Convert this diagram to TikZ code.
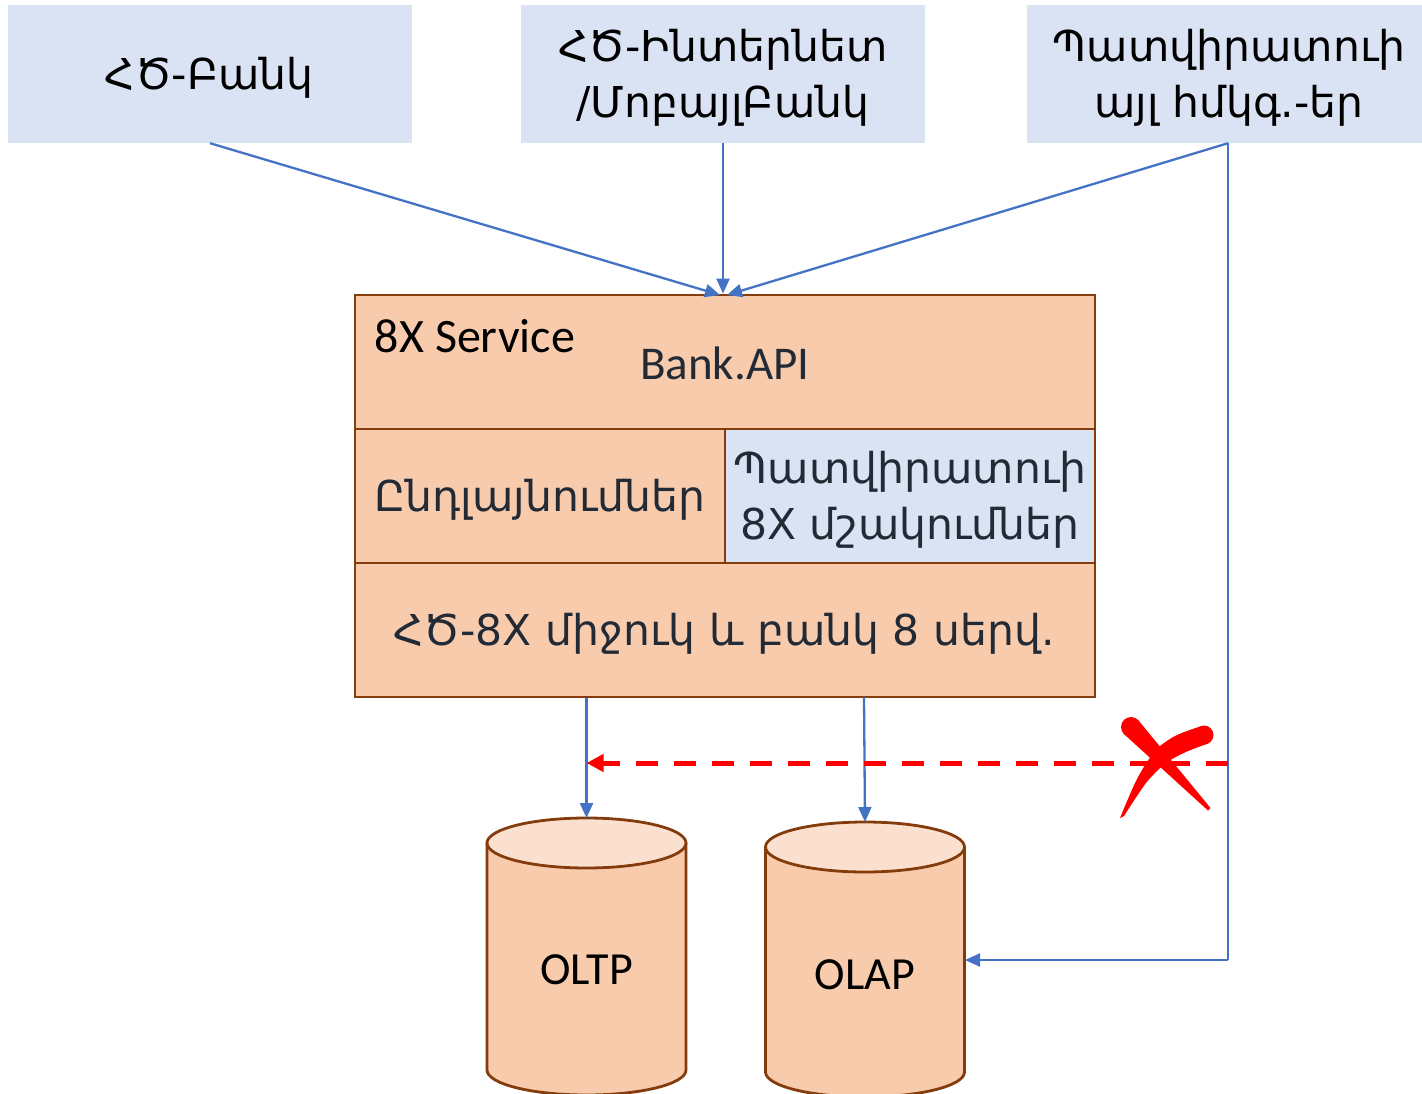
\documentclass[tikz,border=0pt]{standalone}
\usepackage{fontspec}
\setmainfont{Carlito}
\newfontfamily\armfont{DejaVu Sans}
\usetikzlibrary{arrows.meta}
\definecolor{boxblue}{HTML}{DAE3F3}
\definecolor{peach}{HTML}{F8CBAD}
\definecolor{peachlt}{HTML}{FBE0D0}
\definecolor{brownline}{HTML}{843C0C}
\definecolor{linkblue}{HTML}{4472C4}
\definecolor{darktext}{HTML}{222A35}
\definecolor{xred}{HTML}{FF0000}
\newcommand\drawdb[3]{%
  \path[dbside] (#1-99.5,#2) -- (#1-99.5,#3) .. controls (#1-99.5,#3+13.8) and (#1-55,#3+25) .. (#1,#3+25) .. controls (#1+55,#3+25) and (#1+99.5,#3+13.8) .. (#1+99.5,#3) -- (#1+99.5,#2);
  \path[dbtop] (#1,#2) ellipse [x radius=99.5, y radius=25];
}
\begin{document}
\begin{tikzpicture}[x=1pt,y=-1pt,
  srcbox/.style={fill=boxblue, draw=none, minimum width=404pt, minimum height=138pt, inner sep=0pt},
  cell/.style={fill=peach, draw=brownline, line width=2.8pt, inner sep=0pt},
  armtext/.style={inner sep=0pt, align=center, font=\armfont\fontsize{42.5}{56.5}\selectfont},
  celltext/.style={armtext, text=darktext},
  link/.style={draw=linkblue, line width=2.3pt, -{Triangle[length=15pt,width=13pt]}},
  noarrow/.style={draw=linkblue, line width=2.3pt},
  xdash/.style={draw=xred, line width=5pt, dash pattern=on 22pt off 16pt, -{Triangle[length=17pt,width=17pt]}},
  dbside/.style={fill=peach, draw=brownline, line width=2.8pt},
  dbtop/.style={fill=peachlt, draw=brownline, line width=2.8pt},
  lbl/.style={inner sep=0pt, font=\fontsize{46}{50}\selectfont}
]
\useasboundingbox (0,0) rectangle (1422,1094);
\clip (0,0) rectangle (1422,1094);
% source boxes
\node[srcbox] (b1) at (210,74) {};
\node[srcbox] (b2) at (723,74) {};
\node[srcbox, minimum width=402pt] (b3) at (1228,74) {};
\node[armtext] (t1) at (209,78) {ՀԾ-Բանկ};
\node[armtext] (t2) at (723,78) {ՀԾ-Ինտերնետ\\/ՄոբայլԲանկ};
\node[armtext] (t3) at (1229,78) {Պատվիրատուի\\այլ հմկգ.-եր};
% main block
\node[cell, minimum width=740pt, minimum height=134pt] (api) at (725,362) {};
\node[cell, minimum width=370pt, minimum height=134pt] (ext) at (540,496) {};
\node[cell, fill=boxblue, minimum width=370pt, minimum height=134pt] (cust) at (910,496) {};
\node[cell, minimum width=740pt, minimum height=134pt] (core) at (725,630) {};
\node[celltext] (t4) at (540,500) {Ընդլայնումներ};
\node[celltext] (t5) at (910,500) {Պատվիրատուի\\8X մշակումներ};
\node[celltext] (t6) at (724,634) {ՀԾ-8X միջուկ և բանկ 8 սերվ.};
\node[lbl, font=\fontsize{48}{50}\selectfont] (svc) at (475,336) {8X Service};
\node[lbl, text=darktext, font=\fontsize{47}{50}\selectfont] (bankapi) at (725,363) {Bank.API};
% databases
\drawdb{586.5}{843}{1070}
\drawdb{865}{847}{1072}
\node[lbl] (oltp) at (586.5,970) {OLTP};
\node[lbl] (olap) at (865,975) {OLAP};
\coordinate (oltptop) at (586.5,818);
\coordinate (olaptop) at (865,822);
\coordinate (olapE) at (965,960);
\coordinate (in1) at (720,295);
\coordinate (in3) at (727,295);
\coordinate (corner) at (1228,960);
\coordinate (rx) at (1228,763);
\coordinate (lx) at (586.5,763);
% connectors
\draw[link] (b1.south) -- (in1);
\draw[link] (b2.south) -- (b2.south |- api.north);
\draw[link] (b3.south) -- (in3);
\draw[noarrow] (b3.south) -- (corner);
\draw[link] (corner) -- (olapE);
\draw[link] (oltptop |- core.south) -- (oltptop);
\draw[link] (864,697) -- (olaptop);
\draw[xdash] (rx) -- (lx);
% red cross
\fill[xred] (1131,727) circle [radius=10];
\fill[xred] (1123.8,733.9) -- (1138.2,720.1) -- (1210.5,808) -- (1208,810.5) -- cycle;
\fill[xred] (1204,735) circle [radius=9.5];
\fill[xred] plot[smooth] coordinates {(1200,726.5) (1175,736) (1155,751) (1137,779) (1120,818)} -- plot[smooth] coordinates {(1124,816) (1146,783) (1166,763) (1186,752) (1208,743.5)} -- cycle;
\end{tikzpicture}
\end{document}
